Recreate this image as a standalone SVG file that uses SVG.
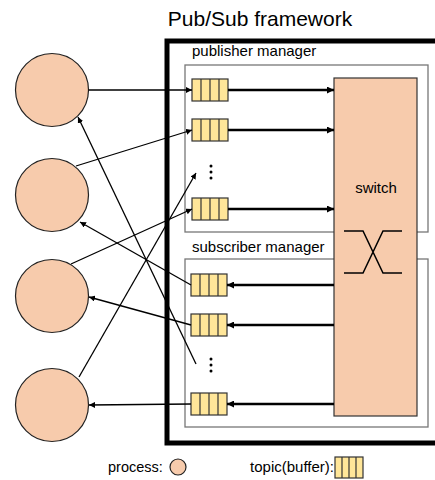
<svg xmlns="http://www.w3.org/2000/svg" width="435" height="480" viewBox="0 0 435 480">
<style>
text{font-family:"Liberation Sans",Arial,sans-serif;fill:#000}
.proc{fill:#F7CBAC;stroke:#222;stroke-width:1.2}
.buf{fill:#FFE699;stroke:#333;stroke-width:1.2}
.cell{stroke:#333;stroke-width:1.2}
.mgr{fill:none;stroke:#777;stroke-width:1.3}
.thin{stroke:#000;stroke-width:1.3;fill:none;marker-end:url(#ah)}
.thick{stroke:#000;stroke-width:2.5;fill:none;marker-end:url(#ahk)}
</style>
<defs>
<marker id="ah" viewBox="0 0 10 10" refX="10" refY="5" markerWidth="6" markerHeight="6" markerUnits="userSpaceOnUse" orient="auto"><path d="M0,0 L10,5 L0,10 z" fill="#000"/></marker>
<marker id="ahk" viewBox="0 0 10 10" refX="10" refY="5" markerWidth="7" markerHeight="7" markerUnits="userSpaceOnUse" orient="auto"><path d="M0,0 L10,5 L0,10 z" fill="#000"/></marker>
<g id="bufshape"><rect class="buf" x="0" y="0" width="36" height="22"/><line class="cell" x1="9" y1="0" x2="9" y2="22"/><line class="cell" x1="18" y1="0" x2="18" y2="22"/><line class="cell" x1="27" y1="0" x2="27" y2="22"/></g>
</defs>
<text x="260" y="26" font-size="21" text-anchor="middle">Pub/Sub framework</text>
<g id="framework"><rect x="167" y="41" width="300" height="402" fill="none" stroke="#000" stroke-width="5"/></g>
<g id="publisher-manager"><rect class="mgr" x="185" y="65" width="243" height="167"/><text x="192" y="56" font-size="15">publisher manager</text></g>
<g id="subscriber-manager"><rect class="mgr" x="185" y="259" width="243" height="168"/><text x="192" y="252" font-size="15">subscriber manager</text></g>
<g id="switch"><rect x="334" y="78" width="83" height="338" fill="#F7CBAC" stroke="#333" stroke-width="1.2"/><text x="376" y="193" font-size="15" text-anchor="middle">switch</text>
<path d="M344,231 H363 L383,273 H402 M344,273 H363 L383,231 H402" fill="none" stroke="#000" stroke-width="1.5"/></g>
<g id="topic-p1"><use href="#bufshape" x="192" y="79"/></g>
<g id="topic-p2"><use href="#bufshape" x="192" y="119"/></g>
<g id="topic-p3"><use href="#bufshape" x="192" y="198"/></g>
<g id="dots-p"><circle cx="211" cy="166" r="1.5"/><circle cx="211" cy="172" r="1.5"/><circle cx="211" cy="178" r="1.5"/></g>
<g id="topic-s1"><use href="#bufshape" x="191" y="274"/></g>
<g id="topic-s2"><use href="#bufshape" x="191" y="314"/></g>
<g id="topic-s3"><use href="#bufshape" x="191" y="393"/></g>
<g id="dots-s"><circle cx="211" cy="359" r="1.5"/><circle cx="211" cy="365" r="1.5"/><circle cx="211" cy="371" r="1.5"/></g>
<g id="process1"><circle class="proc" cx="52" cy="90" r="36.5"/></g>
<g id="process2"><circle class="proc" cx="52" cy="195" r="36.5"/></g>
<g id="process3"><circle class="proc" cx="52" cy="296" r="36.5"/></g>
<g id="process4"><circle class="proc" cx="52" cy="405" r="36.5"/></g>
<g id="connectors">
<line class="thick" x1="228" y1="90" x2="334" y2="90"/>
<line class="thick" x1="228" y1="130" x2="334" y2="130"/>
<line class="thick" x1="228" y1="209" x2="334" y2="209"/>
<line class="thick" x1="334" y1="285" x2="227" y2="285"/>
<line class="thick" x1="334" y1="325" x2="227" y2="325"/>
<line class="thick" x1="334" y1="404" x2="227" y2="404"/>
<line class="thin" x1="88.5" y1="90" x2="192" y2="90"/>
<line class="thin" x1="76" y1="166" x2="192" y2="130"/>
<line class="thin" x1="71" y1="264" x2="192" y2="209"/>
<line class="thin" x1="79" y1="377" x2="196" y2="173"/>
<line class="thin" x1="191" y1="285" x2="80" y2="222"/>
<line class="thin" x1="191" y1="325" x2="89" y2="297"/>
<line class="thin" x1="196" y1="364" x2="78" y2="117"/>
<line class="thin" x1="191" y1="404" x2="89" y2="405"/>
</g>
<g id="legend">
<text x="108" y="472" font-size="14.5">process:</text>
<circle class="proc" cx="178" cy="467" r="8"/>
<text x="334" y="472" font-size="15" text-anchor="end">topic(buffer):</text>
<g><rect class="buf" x="335" y="457" width="28" height="21"/><line class="cell" x1="342" y1="457" x2="342" y2="478"/><line class="cell" x1="349" y1="457" x2="349" y2="478"/><line class="cell" x1="356" y1="457" x2="356" y2="478"/></g>
</g>
</svg>
